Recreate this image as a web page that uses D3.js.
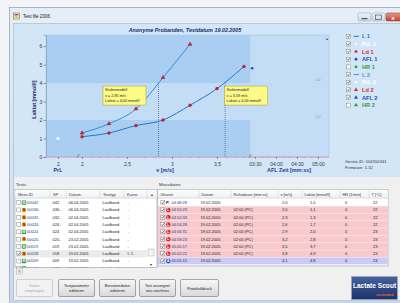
<html>
<head>
<style>
  body { margin: 0; background: #fff; }
  svg { display: block; font-family: 'Liberation Sans', Arial, sans-serif; }
</style>
</head>
<body>
<svg width="400" height="303"></svg>
<script src="https://d3js.org/d3.v7.min.js"></script>
<script>
// measurements of the selected test 00018 (curve "L 1")
const measTimes = ["04:48:28", "04:50:23", "04:52:33", "04:54:28", "04:56:31", "04:58:23", "05:00:17", "05:02:22", "05:05:15"];
const measKinds = ["P", "L", "L", "L", "L", "L", "L", "L", "A"];
const measRest = ["", "02:00 (PC)", "02:00 (PC)", "02:00 (PC)", "02:00 (PC)", "02:00 (PC)", "02:00 (PC)", "02:00 (PC)", ""];
const measSpeed = [2.0, 2.0, 2.3, 2.6, 2.9, 3.2, 3.5, 3.8, 4.1];
const measLactate = [1.0, 1.1, 1.3, 1.7, 2.0, 2.8, 3.7, 4.9, 4.8];
const measHr = [0, 0, 0, 0, 0, 0, 0, 0, 0];
const measTemp = [22, 22, 22, 22, 23, 23, 23, 23, 23];
const measDate = "19.02.2005";
const aflTime = "03:26";

// second curve "L 2"
const l2Speed = [2.0, 2.3, 2.6, 2.9, 3.2];
const l2Lactate = [1.3, 1.8, 2.6, 4.3, 6.1];

// threshold model results
const thrSpeed = [2.85, 3.59];
const thrLactate = [4.0, 4.0];

// axes
const yTicks = [0, 1, 2, 3, 4, 5, 6];
const prlTicks = [2];
const vTicks = [2, 2.5, 3, 3.5];
const aflTicks = ["03:30", "04:00", "04:30", "05:00"];

// legend
const legendLabels = ["L 1", "PrL 1", "Ld 1", "AFL 1", "HR 1", "L 2", "PrL 2", "Ld 2", "AFL 2", "HR 2"];
const legendChecked = [1, 1, 1, 1, 0, 1, 1, 1, 1, 0];

// tests list
const testIds = ["00042", "00036..", "00032..", "00026..", "00024", "00020..", "00019", "00018", "00009", "00008"];
const testKinds = ["M", "S", "S", "S", "M", "S", "M", "S", "M", "M"];
const testSp = ["042", "036..", "032..", "026..", "024", "020..", "019", "018", "009", "008"];
const testDates = ["06.04.2005", "06.04.2005", "02.04.2005", "02.04.2005", "02.04.2005", "23.02.2005", "23.02.2005", "19.02.2005", "19.02.2005", "19.02.2005"];
const testTypes = ["Laufband", "Laufband", "Laufband", "Laufband", "Laufband", "Laufband", "Laufband", "Laufband", "Laufband", "Laufband"];
const testCurves = ["-", "-", "-", "-", "-", "-", "-", "L 1", "-", "-"];
const testChecked = [0, 0, 0, 0, 0, 0, 0, 1, 0, 0];

const buttonLabels = [["Daten", "empfangen"], ["Testparameter", "editieren"], ["Benutzerdaten", "editieren"], ["Test anzeigen/", "neu zeichnen"], ["Protokolldruck"]];

const svg = d3.select("svg");
const defs = svg.append("defs");
function vgrad(id, c0, c1) {
  const g = defs.append("linearGradient").attr("id", id)
    .attr("x1", 0).attr("y1", 0).attr("x2", 0).attr("y2", 1);
  g.append("stop").attr("offset", "0%").attr("stop-color", c0);
  g.append("stop").attr("offset", "100%").attr("stop-color", c1);
}
vgrad("gTitle", "#e6eef7", "#c9d9ea");
vgrad("gBtn", "#f7f7f7", "#d9d9d9");
vgrad("gHead", "#ffffff", "#eceef1");
vgrad("gLogo", "#46629f", "#1c3168");
vgrad("gClose", "#e49b90", "#c2402f");
vgrad("gMin", "#eef3f8", "#cbd8e6");

function txt(g, x, y, s, size, o = {}) {
  return g.append("text").attr("x", x).attr("y", y).text(s)
    .attr("font-size", size)
    .attr("fill", o.fill || "#222")
    .attr("font-weight", o.bold ? "bold" : null)
    .attr("font-style", o.italic ? "italic" : null)
    .attr("text-anchor", o.anchor || "start");
}
const sec = s => { const p = s.split(":"); return +p[0] * 60 + +p[1]; };
const comma = d => String(d).replace(".", ",");
const fmt1 = d => d3.format(".1f")(d).replace(".", ",");

// ---------- window ----------
svg.append("rect").attr("width", 400).attr("height", 303).attr("fill", "#f2f4f7");
svg.append("rect").attr("x", 9.5).attr("y", 7.5).attr("width", 400).attr("height", 300)
  .attr("fill", "url(#gTitle)").attr("stroke", "#7891ad").attr("stroke-width", 0.6);
// icon + title
svg.append("rect").attr("x", 13.5).attr("y", 13).attr("width", 6).attr("height", 6)
  .attr("fill", "#fff").attr("stroke", "#4a7a3a").attr("stroke-width", 0.6);
svg.append("rect").attr("x", 14.5).attr("y", 14).attr("width", 4).attr("height", 1.5).attr("fill", "#d33");
svg.append("rect").attr("x", 14.5).attr("y", 16.3).attr("width", 4).attr("height", 1.5).attr("fill", "#e8b020");
txt(svg, 23, 18.3, "Test file 2006", 4.6, { fill: "#1a1a1a" });
// caption buttons
[[358, 13, "gMin"], [372, 13, "gMin"]].forEach(b => {
  svg.append("rect").attr("x", b[0]).attr("y", b[1]).attr("width", 13).attr("height", 8).attr("rx", 1.5)
    .attr("fill", "url(#" + b[2] + ")").attr("stroke", "#8ea2b8").attr("stroke-width", 0.5);
});
svg.append("rect").attr("x", 361.5).attr("y", 18).attr("width", 6).attr("height", 1.2).attr("fill", "#4a5a6e");
svg.append("rect").attr("x", 375.5).attr("y", 15).attr("width", 6).attr("height", 4.5)
  .attr("fill", "none").attr("stroke", "#4a5a6e").attr("stroke-width", 0.7);
svg.append("rect").attr("x", 386).attr("y", 13).attr("width", 16).attr("height", 8).attr("rx", 1.5)
  .attr("fill", "url(#gClose)").attr("stroke", "#8c3328").attr("stroke-width", 0.5);
txt(svg, 393, 19.6, "x", 6, { fill: "#fff", bold: true, anchor: "middle" });

// client area
svg.append("rect").attr("x", 13.5).attr("y", 23.5).attr("width", 390).attr("height", 277)
  .attr("fill", "#f0f0f0").attr("stroke", "#8ea4bb").attr("stroke-width", 0.5);
svg.append("rect").attr("x", 14).attr("y", 24).attr("width", 390).attr("height", 153).attr("fill", "#d3e6f8");
svg.append("rect").attr("x", 9.5).attr("y", 300.5).attr("width", 400).attr("height", 3).attr("fill", "#c4d6ea");

// ---------- chart ----------
const P = { x0: 46, x1: 329, y0: 35, y1: 157 };
const y = d3.scaleLinear().domain([0, 6.6]).range([P.y1, P.y0]);
const xp = d3.scaleLinear().domain([1.5, 2.5]).range([46, 70]);
const xv = d3.scaleLinear().domain([2, 3.5]).range([82, 217]);
const xa = d3.scaleLinear().domain([sec("03:30"), sec("05:00")]).range([255, 318]);
const vEnd = 250;

const chart = svg.append("g");
chart.append("rect").attr("x", P.x0).attr("y", P.y0).attr("width", P.x1 - P.x0).attr("height", P.y1 - P.y0)
  .attr("fill", "#c3ddf6").attr("stroke", "#9dbcd9").attr("stroke-width", 0.5);
// darker bands above 4 and below 2 mmol/l
[[4, 6.6], [0, 2]].forEach(b => {
  chart.append("rect").attr("x", P.x0 + 0.3).attr("y", y(b[1])).attr("width", vEnd - P.x0)
    .attr("height", y(b[0]) - y(b[1])).attr("fill", "#a9cef1");
});
txt(chart, 318, y(4) - 2, "4,0", 3.6, { fill: "#8a9aac", anchor: "middle" });
txt(chart, 318, y(2) - 2, "2,0", 3.6, { fill: "#8a9aac", anchor: "middle" });
txt(chart, 327, 40, "\u25B2", 3.6, { fill: "#3a4f7a", anchor: "middle" });

// title
txt(svg, 185, 31.5, "Anonyme Probanden, Testdatum 19.02.2005", 5.4, { fill: "#1a2d6b", bold: true, italic: true, anchor: "middle" });

// y axis
const gy = chart.append("g").attr("transform", "translate(" + P.x0 + ",0)")
  .call(d3.axisLeft(y).tickValues(yTicks).tickSize(2.5).tickPadding(1.2).tickFormat(d3.format("d")));
gy.attr("font-size", 5).attr("font-family", null);
gy.select(".domain").attr("stroke", "#7f93a8").attr("stroke-width", 0.6);
gy.selectAll(".tick line").attr("stroke", "#55657a").attr("stroke-width", 0.6);
gy.selectAll(".tick text").attr("fill", "#3a3a3a");
txt(chart, 0, 0, "Laktat [mmol/l]", 5.4, { fill: "#1a2d6b", bold: true, anchor: "middle" })
  .attr("transform", "translate(35.5," + y(3.1) + ") rotate(-90)");

// bottom axis line
chart.append("line").attr("x1", P.x0).attr("x2", P.x1).attr("y1", P.y1).attr("y2", P.y1)
  .attr("stroke", "#e28d9c").attr("stroke-width", 0.8);

function bottomAxis(scale, ticks, fmt) {
  const g = chart.append("g").attr("transform", "translate(0," + P.y1 + ")")
    .call(d3.axisBottom(scale).tickValues(ticks).tickSize(2).tickPadding(3).tickFormat(fmt));
  g.attr("font-size", 5).attr("font-family", null);
  g.select(".domain").remove();
  g.selectAll(".tick line").attr("stroke", "#55657a").attr("stroke-width", 0.6);
  g.selectAll(".tick text").attr("fill", "#3a3a3a");
  return g;
}
bottomAxis(xp, prlTicks, d => d);
bottomAxis(xv, vTicks, comma);
bottomAxis(xa, aflTicks.map(sec), d => aflTicks.find(t => sec(t) === d));
// minor ticks
chart.selectAll(".mv").data(d3.range(2, 3.85, 0.1)).join("line")
  .attr("x1", d => xv(d)).attr("x2", d => xv(d)).attr("y1", P.y1).attr("y2", P.y1 + 1)
  .attr("stroke", "#55657a").attr("stroke-width", 0.4);
chart.selectAll(".ma").data(d3.range(sec("03:30"), sec("05:10"), 10)).join("line")
  .attr("x1", d => xa(d)).attr("x2", d => xa(d)).attr("y1", P.y1).attr("y2", P.y1 + 1)
  .attr("stroke", "#55657a").attr("stroke-width", 0.4);
// axis breaks
txt(chart, 78, P.y1 + 0.5, "//", 4.5, { fill: "#55657a", italic: true, anchor: "middle" });
txt(chart, 250, P.y1 + 0.5, "//", 4.5, { fill: "#55657a", italic: true, anchor: "middle" });
// axis titles
txt(chart, xp(2), 172, "PrL", 5.4, { fill: "#1f3a8a", bold: true, anchor: "middle" });
txt(chart, 165, 172, "v [m/s]", 5.4, { fill: "#1f3a8a", bold: true, anchor: "middle" });
txt(chart, 289, 172, "AFL Zeit [mm:ss]", 5.4, { fill: "#1f3a8a", bold: true, anchor: "middle" });

// curves
const l1 = measSpeed.map((v, i) => ({ v, lac: measLactate[i], kind: measKinds[i] }));
const l1pts = l1.filter(d => d.kind === "L");
const l2pts = l2Speed.map((v, i) => ({ v, lac: l2Lactate[i] }));
const line = d3.line().x(d => xv(d.v)).y(d => y(d.lac)).curve(d3.curveMonotoneX);

// threshold lines
thrSpeed.forEach((v, i) => {
  chart.append("line").attr("x1", xv(v)).attr("x2", xv(v)).attr("y1", y(thrLactate[i])).attr("y2", P.y1)
    .attr("stroke", "#2b3f66").attr("stroke-width", 0.6).attr("stroke-dasharray", "1,1");
});

chart.append("path").attr("d", line(l2pts)).attr("fill", "none").attr("stroke", "#2a8fdc").attr("stroke-width", 1);
chart.append("path").attr("d", line(l1pts)).attr("fill", "none").attr("stroke", "#1c7acb").attr("stroke-width", 1);

chart.selectAll(".p1").data(l1pts).join("circle")
  .attr("cx", d => xv(d.v)).attr("cy", d => y(d.lac)).attr("r", 1.5)
  .attr("fill", "#d61f26").attr("stroke", "#9a1418").attr("stroke-width", 0.3);
chart.selectAll(".p2").data(l2pts).join("path")
  .attr("transform", d => "translate(" + xv(d.v) + "," + y(d.lac) + ")")
  .attr("d", d3.symbol(d3.symbolTriangle, 7))
  .attr("fill", "#d61f26").attr("stroke", "#9a1418").attr("stroke-width", 0.3);
// pre-lactate and AFL points
l1.filter(d => d.kind === "P").forEach(d => {
  chart.append("circle").attr("cx", xp(2)).attr("cy", y(d.lac)).attr("r", 1.6)
    .attr("fill", "#fff").attr("stroke", "#c8d8e8").attr("stroke-width", 0.4);
});
l1.filter(d => d.kind === "A").forEach(d => {
  chart.append("circle").attr("cx", xa(sec(aflTime))).attr("cy", y(d.lac)).attr("r", 1.3).attr("fill", "#1c4fb8");
});

// threshold boxes
thrSpeed.forEach((v, i) => {
  const bx = i === 0 ? xv(v) - 55.5 : xv(v) - 0.5;
  const by = y(thrLactate[i]) + 3;
  const g = chart.append("g");
  g.append("rect").attr("x", bx).attr("y", by).attr("width", 43).attr("height", 19)
    .attr("fill", "#fdfb86").attr("stroke", "#a59a30").attr("stroke-width", 0.5);
  txt(g, bx + 2, by + 5.2, "Stufenmodell", 3.8);
  txt(g, bx + 2, by + 10.5, "v = " + d3.format(".2f")(v).replace(".", ",") + " m/s", 3.8);
  txt(g, bx + 2, by + 15.8, "Laktat = " + d3.format(".2f")(thrLactate[i]).replace(".", ",") + " mmol/l", 3.8);
});

// ---------- legend ----------
const legendColor = { "L": "#1b7ac2", "PrL": "#ffffff", "Ld": "#d42a2a", "AFL": "#1c4fb8", "HR": "#2e9e2e" };
const leg = svg.append("g");
legendLabels.forEach((lab, i) => {
  const cy = 36.3 + i * 7.65;
  const kind = lab.split(" ")[0], nr = lab.split(" ")[1];
  let col = legendColor[kind];
  if (kind === "L" && nr === "2") col = "#3b9be0";
  leg.append("rect").attr("x", 346.5).attr("y", cy - 2).attr("width", 4).attr("height", 4)
    .attr("fill", "#fff").attr("stroke", "#7a7a7a").attr("stroke-width", 0.45);
  if (legendChecked[i]) {
    leg.append("path").attr("d", `M347.4,${cy} L348.3,${cy + 1.1} L349.8,${cy - 1.2}`)
      .attr("fill", "none").attr("stroke", "#222").attr("stroke-width", 0.6);
  }
  if (kind === "L") {
    leg.append("line").attr("x1", 353.5).attr("x2", 359).attr("y1", cy).attr("y2", cy)
      .attr("stroke", col).attr("stroke-width", 1);
  } else if (nr === "1") {
    leg.append("circle").attr("cx", 356).attr("cy", cy).attr("r", 1.4)
      .attr("fill", col).attr("stroke", kind === "PrL" ? "#c8d8e8" : "none").attr("stroke-width", 0.4);
  } else {
    leg.append("path").attr("transform", "translate(356," + cy + ")")
      .attr("d", d3.symbol(d3.symbolTriangle, 7)).attr("fill", col)
      .attr("stroke", kind === "PrL" ? "#c8d8e8" : "none").attr("stroke-width", 0.4);
  }
  txt(leg, 362, cy + 2, lab, 5.6, { fill: col, bold: true });
});
txt(svg, 345, 162.5, "Geräte-ID: 004550341", 4.2, { fill: "#3a3a3a" });
txt(svg, 345, 169, "Firmware: 1.32", 4.2, { fill: "#3a3a3a" });

// ---------- tests table ----------
const RH = 7.3, top0 = 199;
txt(svg, 16, 186, "Tests", 4.4, { fill: "#333" });
txt(svg, 159, 186, "Messdaten", 4.4, { fill: "#333" });

const tbl = svg.append("g");
defs.append("clipPath").attr("id", "clipT").append("rect").attr("x", 15).attr("y", 189.5).attr("width", 142).attr("height", 78);
tbl.append("rect").attr("x", 15).attr("y", 189.5).attr("width", 142).attr("height", 78)
  .attr("fill", "#fff").attr("stroke", "#82878f").attr("stroke-width", 0.5);
const tcols = [15, 50, 66, 100, 124, 147, 157];
const theads = ["Mess-ID", "SP", "Datum", "Testtyp", "Kurve"];
const body = tbl.append("g").attr("clip-path", "url(#clipT)");
testIds.forEach((id, i) => {
  const ry = top0 + i * RH, cy = ry + RH / 2;
  if (testChecked[i]) body.append("rect").attr("x", 15.3).attr("y", ry).attr("width", 131.5).attr("height", RH).attr("fill", "#ebebeb");
  body.append("rect").attr("x", 16.8).attr("y", cy - 2).attr("width", 4).attr("height", 4)
    .attr("fill", "#fff").attr("stroke", "#7a7a7a").attr("stroke-width", 0.45);
  if (testChecked[i]) body.append("path").attr("d", `M17.6,${cy} L18.5,${cy + 1.1} L20,${cy - 1.2}`)
    .attr("fill", "none").attr("stroke", "#222").attr("stroke-width", 0.6);
  if (testKinds[i] === "M") {
    body.append("rect").attr("x", 21.8).attr("y", cy - 2.2).attr("width", 4.4).attr("height", 4.4).attr("rx", 0.8).attr("fill", "#2f9a34");
    txt(body, 24, cy + 1.3, "M", 3.4, { fill: "#fff", bold: true, anchor: "middle" });
  } else {
    body.append("circle").attr("cx", 24).attr("cy", cy).attr("r", 2.2).attr("fill", "#e0931f");
    txt(body, 24, cy + 1.3, "S", 3.4, { fill: "#5a2a00", bold: true, anchor: "middle" });
  }
  txt(body, 27, cy + 1.4, id, 4, { fill: "#1e3a8a" });
  txt(body, 52.5, cy + 1.4, testSp[i], 4);
  txt(body, 68.5, cy + 1.4, testDates[i], 4);
  txt(body, 102.5, cy + 1.4, testTypes[i], 4);
  txt(body, 127.5, cy + 1.4, testCurves[i], 4);
});
tbl.append("rect").attr("x", 15.3).attr("y", 189.8).attr("width", 141.4).attr("height", 8.4).attr("fill", "url(#gHead)");
tcols.slice(1, -1).forEach(x => tbl.append("line").attr("x1", x).attr("x2", x).attr("y1", 190).attr("y2", 198)
  .attr("stroke", "#c5c9cf").attr("stroke-width", 0.5));
tbl.append("line").attr("x1", 15).attr("x2", 157).attr("y1", 198.2).attr("y2", 198.2).attr("stroke", "#c5c9cf").attr("stroke-width", 0.5);
theads.forEach((h, i) => txt(tbl, tcols[i] + 3, 195.6, h, 4, { fill: "#333" }));
txt(tbl, 152, 195.6, "\u25B2", 3.4, { fill: "#333", anchor: "middle" });
tbl.append("rect").attr("x", 148).attr("y", 249).attr("width", 6).attr("height", 7)
  .attr("fill", "#f4f4f4").attr("stroke", "#9a9a9a").attr("stroke-width", 0.4);
txt(tbl, 151, 266, "\u25BC", 3.4, { fill: "#333", anchor: "middle" });
svg.append("rect").attr("x", 16.5).attr("y", 268.5).attr("width", 6).attr("height", 5.5)
  .attr("fill", "#f4f4f4").attr("stroke", "#9a9a9a").attr("stroke-width", 0.4);
txt(svg, 19.5, 272.8, "R", 3.6, { fill: "#555", anchor: "middle" });

// ---------- measurement table ----------
const mt = svg.append("g");
const mcols = [158, 199, 231, 278, 302, 340, 369, 388];
const mheads = ["Uhrzeit", "Datum", "Ruhedauer [mm:ss]", "v [m/s]", "Laktat [mmol/l]", "HR [1/min]", "T [°C]"];
mt.append("rect").attr("x", 158).attr("y", 189.5).attr("width", 230).attr("height", 76.5)
  .attr("fill", "#fff").attr("stroke", "#82878f").attr("stroke-width", 0.5);
const rowFill = { P: "#ffffff", L: "#f8cacd", A: "#cbcaf6" };
const badgeFill = { L: "#d42323", A: "#2453c6" };
measTimes.forEach((t, i) => {
  const ry = top0 + i * RH, cy = ry + RH / 2, k = measKinds[i];
  mt.append("rect").attr("x", 158.3).attr("y", ry).attr("width", 229.4).attr("height", RH - 0.3).attr("fill", rowFill[k]);
  mt.append("rect").attr("x", 160.8).attr("y", cy - 2).attr("width", 4).attr("height", 4)
    .attr("fill", "#fff").attr("stroke", "#7a7a7a").attr("stroke-width", 0.45);
  mt.append("path").attr("d", `M161.6,${cy} L162.5,${cy + 1.1} L164,${cy - 1.2}`)
    .attr("fill", "none").attr("stroke", "#222").attr("stroke-width", 0.6);
  if (k === "P") {
    txt(mt, 166, cy + 1.5, "P,", 4.2, { fill: "#222", bold: true });
  } else {
    mt.append("circle").attr("cx", 168.3).attr("cy", cy).attr("r", 2.2).attr("fill", badgeFill[k]);
    txt(mt, 168.3, cy + 1.3, k, 3.3, { fill: "#fff", bold: true, anchor: "middle" });
  }
  txt(mt, 171.5, cy + 1.4, t, 4, { fill: "#1e3a8a" });
  txt(mt, 200.5, cy + 1.4, measDate, 4);
  txt(mt, 233.5, cy + 1.4, measRest[i], 4);
  txt(mt, 282, cy + 1.4, fmt1(measSpeed[i]), 4);
  txt(mt, 310, cy + 1.4, fmt1(measLactate[i]), 4);
  txt(mt, 345, cy + 1.4, measHr[i], 4);
  txt(mt, 373, cy + 1.4, measTemp[i], 4);
});
mt.append("rect").attr("x", 158.3).attr("y", 189.8).attr("width", 229.4).attr("height", 8.4).attr("fill", "url(#gHead)");
mcols.slice(1, -1).forEach(x => mt.append("line").attr("x1", x).attr("x2", x).attr("y1", 190).attr("y2", 198)
  .attr("stroke", "#c5c9cf").attr("stroke-width", 0.5));
mt.append("line").attr("x1", 158).attr("x2", 388).attr("y1", 198.2).attr("y2", 198.2).attr("stroke", "#c5c9cf").attr("stroke-width", 0.5);
mheads.forEach((h, i) => txt(mt, mcols[i] + 2.5, 195.6, h, 3.9, { fill: "#333" }));

// ---------- buttons ----------
const bx = [[16, 52], [58, 94], [99, 135], [139, 175], [180, 218]];
buttonLabels.forEach((lab, i) => {
  const g = svg.append("g"), x0 = bx[i][0], w = bx[i][1] - bx[i][0];
  const off = i === 0;
  g.append("rect").attr("x", x0 + 0.5).attr("y", 279.5).attr("width", w).attr("height", 17).attr("rx", 1.5)
    .attr("fill", off ? "#f2f2f2" : "url(#gBtn)").attr("stroke", off ? "#b5b9bd" : "#707070").attr("stroke-width", 0.6);
  lab.forEach((s, j) => {
    const yy = lab.length === 1 ? 289.5 : 286.8 + j * 5;
    txt(g, x0 + w / 2 + 0.5, yy, s, 3.9, { fill: off ? "#a7a7a7" : "#222", anchor: "middle" });
  });
});

// ---------- logo ----------
svg.append("rect").attr("x", 351.5).attr("y", 276.5).attr("width", 46).attr("height", 23)
  .attr("fill", "url(#gLogo)").attr("stroke", "#9aa8c4").attr("stroke-width", 0.6);
txt(svg, 374.5, 288, "Lactate Scout", 6.6, { fill: "#fff", bold: true, anchor: "middle" });
txt(svg, 385, 295.5, "assistant", 4, { fill: "#e86a2a", bold: true, anchor: "middle" });
</script>
</body>
</html>
